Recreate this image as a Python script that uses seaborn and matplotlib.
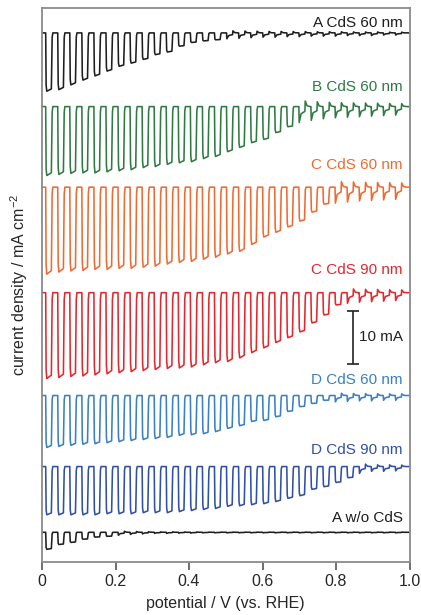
import matplotlib
matplotlib.use("Agg")
import numpy as np
import seaborn as sns
import matplotlib.pyplot as plt

# --- Data (mA) ---
# photocurrent depth for each chopping cycle (light on), cycles are 0.0328 V apart
depth_a60 = [11.0, 10.7, 9.8, 8.9, 8.1, 7.2, 6.3, 5.7, 5.0, 4.1, 3.6, 2.5, 1.8, 1.5, 1.3,
             1.1, 1.0, 0.9, 0.8, 0.8, 0.7, 0.7, 0.6, 0.6, 0.6, 0.5, 0.5, 0.5, 0.4, 0.4]
depth_b60 = [13.0, 12.8, 12.6, 12.5, 12.5, 12.3, 12.1, 11.9, 11.5, 11.3, 10.9, 10.6, 10.4, 9.8, 9.4,
             8.5, 7.7, 6.8, 6.2, 4.9, 3.8, 3.0, 2.6, 2.3, 2.1, 2.0, 1.9, 1.8, 1.7, 1.6]
depth_c60 = [16.4, 16.0, 15.8, 15.7, 15.5, 15.5, 15.3, 15.3, 15.1, 14.9, 14.5, 14.2, 14.0, 13.6, 13.2,
             12.6, 12.1, 10.8, 9.4, 8.5, 7.5, 6.4, 4.7, 3.2, 3.0, 2.8, 2.6, 2.5, 2.4, 2.3]
depth_c90 = [16.2, 16.0, 15.8, 15.7, 15.5, 15.3, 15.1, 14.9, 14.7, 14.5, 14.3, 14.2, 14.0, 13.6, 13.2,
             13.0, 12.3, 11.3, 10.4, 9.4, 8.5, 7.4, 5.7, 4.2, 2.3, 2.0, 1.8, 1.7, 1.6, 1.5]
depth_d60 = [9.8, 9.6, 9.4, 9.2, 9.1, 8.9, 8.7, 8.5, 8.3, 8.1, 7.9, 7.5, 7.4, 7.2, 6.8,
             6.2, 5.7, 4.9, 4.7, 4.0, 3.0, 2.1, 1.5, 0.9, 1.2, 1.1, 1.0, 1.0, 0.9, 0.9]
depth_d90 = [9.1, 9.1, 9.1, 9.1, 9.1, 8.9, 8.9, 8.9, 8.7, 8.7, 8.7, 8.5, 8.3, 8.1, 7.9,
             7.5, 7.4, 7.2, 7.0, 6.6, 6.0, 5.5, 4.3, 3.8, 3.0, 2.1, 1.3, 0.9, 0.9, 0.8]
depth_a0 = [3.2, 2.3, 1.9, 1.3, 0.9, 0.75, 0.55, 0.4, 0.3, 0.2, 0.2, 0.15, 0.15, 0.1, 0.1,
            0.1, 0.1, 0.1, 0.1, 0.1, 0.1, 0.1, 0.1, 0.1, 0.1, 0.1, 0.1, 0.1, 0.1, 0.1]

labels = ["A CdS 60 nm", "B CdS 60 nm", "C CdS 60 nm", "C CdS 90 nm",
          "D CdS 60 nm", "D CdS 90 nm", "A w/o CdS"]
dark_levels = [99.8, 85.9, 70.7, 50.8, 31.4, 18.0, 5.6]   # stacked dark current
label_y = [101.7, 89.6, 74.9, 55.1, 34.3, 21.1, 8.3]
knees = [15, 21, 24, 25, 24, 26, 6]   # cycle where spiky transients start
colors = ["#1e1e1e", "#2f7a43", "#ef6a33", "#e5262d", "#3a80c4", "#3050a8", "#1e1e1e"]
depths = [depth_a60, depth_b60, depth_c60, depth_c90, depth_d60, depth_d90, depth_a0]

x_ticks = [0, 0.2, 0.4, 0.6, 0.8, 1.0]
x_ticklabels = ["0", "0.2", "0.4", "0.6", "0.8", "1.0"]

V0 = 0.01
PERIOD = 0.0328


def chopped(depth, dark, knee):
    half = PERIOD / 2
    v, j = [0.0], [dark]
    for k, d in enumerate(depth):
        t0 = V0 + k * PERIOD
        if k < knee:
            pts = [(t0, dark), (t0 + 0.0012, dark - 0.9 * d), (t0 + 0.003, dark - d),
                   (t0 + half - 0.001, dark - 0.96 * d),
                   (t0 + half + 0.0012, dark - 0.08 * d), (t0 + half + 0.003, dark),
                   (t0 + PERIOD - 0.002, dark)]
        else:
            pts = [(t0, dark), (t0 + 0.001, dark - d), (t0 + 0.006, dark - 0.45 * d),
                   (t0 + half, dark - 0.3 * d), (t0 + half + 0.001, dark + 0.35 * d),
                   (t0 + half + 0.006, dark + 0.05 * d), (t0 + PERIOD - 0.002, dark)]
        for a, b in pts:
            v.append(a)
            j.append(b)
    v.append(1.0)
    j.append(dark)
    return np.array(v), np.array(j)


sns.set_style("white")
plt.rcParams["font.family"] = ["Liberation Sans", "DejaVu Sans"]
plt.rcParams["mathtext.fontset"] = "custom"
plt.rcParams["mathtext.rm"] = "Liberation Sans"

fig = plt.figure(figsize=(4.21, 6.15), dpi=100)
ax = fig.add_axes([0.0998, 0.0862, 0.873, 0.9008])

for depth, dark, knee, color, label, ly in zip(depths, dark_levels, knees, colors, labels, label_y):
    v, j = chopped(depth, dark, knee)
    sns.lineplot(x=v, y=j, sort=False, estimator=None, color=color, lw=1.15, ax=ax)
    ax.text(0.982, ly, label, color=color, fontsize=11, ha="right", va="center")

# 10 mA scale bar
ax.errorbar([0.846], [42.4], yerr=[5.0], color="#222222", lw=1.2, capsize=4, capthick=1.2)
ax.text(0.863, 42.4, "10 mA", fontsize=11, ha="left", va="center", color="#222222")

ax.set_xlim(0, 1)
ax.set_ylim(0, 104.5)
ax.set_xticks(x_ticks)
ax.set_xticklabels(x_ticklabels)
ax.set_yticks([])
for s in ax.spines.values():
    s.set_color("#8a8a8a")
    s.set_linewidth(1.3)
ax.tick_params(axis="x", direction="out", length=6, width=1.2, color="#555555",
               labelsize=11.5, bottom=True, pad=3)
ax.set_xlabel("potential / V (vs. RHE)", fontsize=11.5, labelpad=5)
ax.set_ylabel("current density / mA cm$^{-2}$", fontsize=11.5, labelpad=9)

fig.savefig("out.png", dpi=100)
